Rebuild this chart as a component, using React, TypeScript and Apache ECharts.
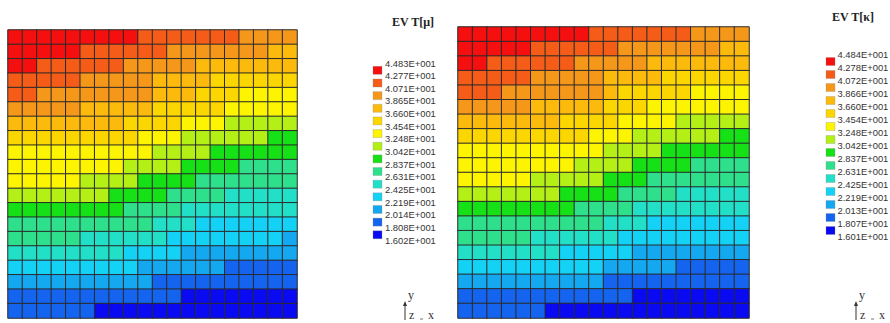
import React, { useEffect, useRef } from "react";
import * as echarts from "echarts";

// level colours, index 0 = coldest (dark blue) ... 13 = hottest (red)
const levelColors = [
  "#0a0af2", "#1464f0", "#14a8f0", "#14d2f6", "#22e0c8", "#2ee08c", "#16e016",
  "#b4f016", "#fcf400", "#fcd600", "#fcba0c", "#f5981a", "#f55c18", "#f50f0f",
];

const muLabels = [
  "4.483E+001", "4.277E+001", "4.071E+001", "3.865E+001", "3.660E+001",
  "3.454E+001", "3.248E+001", "3.042E+001", "2.837E+001", "2.631E+001",
  "2.425E+001", "2.219E+001", "2.014E+001", "1.808E+001", "1.602E+001",
];
const kappaLabels = [
  "4.484E+001", "4.278E+001", "4.072E+001", "3.866E+001", "3.660E+001",
  "3.454E+001", "3.248E+001", "3.042E+001", "2.837E+001", "2.631E+001",
  "2.425E+001", "2.219E+001", "2.013E+001", "1.807E+001", "1.601E+001",
];

// each character = colour level (hex 0..D) of one cell, row 0 = top
const muRows = [
  "DDDDDDDDDCCCCCCCBBBB",
  "DDDDDCCCCCCBBBBBBBAA",
  "DDCCCCCCBBBBBAAAAAAA",
  "CCCCCBBBBBAAAA999999",
  "CCBBBBBBBBAAA9998888",
  "BBBBBAAAAA9999988888",
  "AAAAAAAA999988877777",
  "99999999988877777766",
  "88888888887777666666",
  "88888888777766665555",
  "88888777766665555555",
  "77777776666555544444",
  "66666666555544444444",
  "55555555554443333333",
  "55555444444333333332",
  "44444444333322222222",
  "33333333322222211111",
  "22222222221111111111",
  "11111111111100000000",
  "11111100000000000000",
];
const kappaRows = [
  "DDDDDDDDDCCCCCCCBBBB",
  "DDDDDCCCCCCBBBBBBBAA",
  "DDCCCCCCBBBBBAAAAAAA",
  "CCCCCBBBBBAAAA999999",
  "CCCBBBBBBBA999998888",
  "BBBBBAAAAA9998888888",
  "AAAAAAA9999888877777",
  "99999999988877777766",
  "88888888887777666666",
  "88888888777766665555",
  "88888777776665555555",
  "77777776666555544444",
  "66666666555544444444",
  "55555555554443333333",
  "55555444444333333333",
  "44444443333322222222",
  "33333333332222211111",
  "22222222221111111111",
  "11111111111100000000",
  "11111100000000000000",
];

const colCats = Array.from({ length: 20 }, (_, i) => String(i));
const rowCats = Array.from({ length: 20 }, (_, i) => String(i));

function toData(rows: string[], labels: string[]) {
  const vals = labels.map((s) => parseFloat(s));
  const out: number[][] = [];
  rows.forEach((row, r) => {
    row.split("").forEach((ch, c) => {
      const L = parseInt(ch, 16);
      out.push([c, r, (vals[13 - L] + vals[14 - L]) / 2]);
    });
  });
  return out;
}

function pieces(labels: string[]) {
  const vals = labels.map((s) => parseFloat(s));
  return levelColors.map((color, L) => ({ min: vals[14 - L], max: vals[13 - L], color }));
}

function legendGraphics(
  title: string,
  labels: string[],
  titleX: number,
  titleY: number,
  swX: number,
  labX: number,
  y0: number,
  step: number
) {
  const els: any[] = [];
  els.push({
    type: "text",
    x: titleX,
    y: titleY,
    style: {
      text: title,
      font: "bold 12px 'Liberation Serif', 'DejaVu Serif', serif",
      fill: "#222",
      verticalAlign: "middle",
    },
  });
  labels.forEach((t, i) => {
    els.push({
      type: "text",
      x: labX,
      y: y0 + step * i,
      style: {
        text: t,
        font: "9.4px 'Liberation Sans', Arial, sans-serif",
        fill: "#333",
        verticalAlign: "middle",
      },
    });
  });
  for (let k = 0; k < 14; k++) {
    const L = 13 - k;
    const cy = y0 + step * k + step / 2 + 1;
    els.push({
      type: "rect",
      shape: { x: swX, y: cy - 4, width: 9, height: 8 },
      style: { fill: levelColors[L], stroke: "#888", lineWidth: 0.3 },
    });
  }
  return els;
}

function triad(x0: number, yBase: number) {
  const f = "12px 'Liberation Serif', 'DejaVu Serif', serif";
  return [
    { type: "line", shape: { x1: x0, y1: yBase + 26, x2: x0, y2: yBase + 9 }, style: { stroke: "#333", lineWidth: 1 } },
    { type: "polygon", shape: { points: [[x0 - 2, yBase + 12], [x0 + 2, yBase + 12], [x0, yBase + 7]] }, style: { fill: "#333" } },
    { type: "text", x: x0 + 3, y: yBase + 1, style: { text: "y", font: f, fill: "#333", verticalAlign: "middle" } },
    { type: "text", x: x0 + 4, y: yBase + 21, style: { text: "z", font: f, fill: "#333", verticalAlign: "middle" } },
    { type: "text", x: x0 + 23, y: yBase + 21, style: { text: "x", font: f, fill: "#333", verticalAlign: "middle" } },
    { type: "line", shape: { x1: x0 + 15, y1: yBase + 25, x2: x0 + 18, y2: yBase + 25 }, style: { stroke: "#777", lineWidth: 1 } },
  ];
}

export default function App() {
  const ref = useRef<HTMLDivElement>(null);
  useEffect(() => {
    if (!ref.current) return;
    const chart = echarts.init(ref.current, undefined, { renderer: "svg" });
    const cellStyle = { borderColor: "#2a2a2a", borderWidth: 1 };
    chart.setOption({
      animation: false,
      backgroundColor: "#ffffff",
      grid: [
        { left: 8, top: 30, width: 289, height: 288 },
        { left: 458, top: 27, width: 291, height: 291 },
      ],
      xAxis: [
        { type: "category", data: colCats, gridIndex: 0, show: false },
        { type: "category", data: colCats, gridIndex: 1, show: false },
      ],
      yAxis: [
        { type: "category", data: rowCats, gridIndex: 0, show: false, inverse: true },
        { type: "category", data: rowCats, gridIndex: 1, show: false, inverse: true },
      ],
      visualMap: [
        { type: "piecewise", show: false, seriesIndex: 0, dimension: 2, pieces: pieces(muLabels) },
        { type: "piecewise", show: false, seriesIndex: 1, dimension: 2, pieces: pieces(kappaLabels) },
      ],
      series: [
        {
          type: "heatmap",
          xAxisIndex: 0,
          yAxisIndex: 0,
          data: toData(muRows, muLabels),
          itemStyle: cellStyle,
          emphasis: { disabled: true },
        },
        {
          type: "heatmap",
          xAxisIndex: 1,
          yAxisIndex: 1,
          data: toData(kappaRows, kappaLabels),
          itemStyle: cellStyle,
          emphasis: { disabled: true },
        },
      ],
      graphic: [
        ...legendGraphics("EV T[\u03bc]", muLabels, 392, 22, 373, 385, 63, 12.65),
        ...legendGraphics("EV T[\u03ba]", kappaLabels, 832, 17, 826, 837.5, 54, 13.0),
        ...triad(405, 294),
        ...triad(856, 294),
      ],
    });
    return () => chart.dispose();
  }, []);
  return (
    <div
      ref={ref}
      style={{ position: "absolute", left: 0, top: 0, width: 890, height: 323 }}
    />
  );
}
